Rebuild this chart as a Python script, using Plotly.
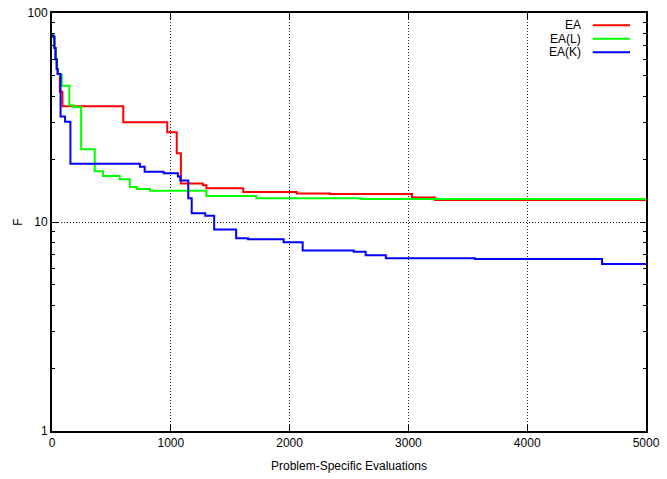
import plotly.graph_objects as go

# Best fitness F versus problem-specific evaluations (step traces)
ea_x = [0, 11, 20, 30, 40, 48, 66, 88, 600, 970, 1050, 1085, 1270, 1300, 1610, 2060, 2340, 3030, 3225, 5000]
ea_f = [78, 77, 68, 60, 54, 51, 42, 35.8, 30.0, 26.9, 21.3, 15.3, 15.0, 14.5, 13.9, 13.7, 13.6, 13.1, 12.75, 12.75]

eal_x = [0, 11, 20, 30, 40, 48, 67, 82, 146, 179, 245, 360, 430, 570, 655, 715, 825, 1300, 1720, 2600, 5000]
eal_f = [78, 77, 68, 60, 54, 51, 50.5, 44.9, 36.2, 35.5, 22.3, 17.5, 16.6, 16.0, 14.7, 14.4, 14.1, 13.3, 13.0, 12.9, 12.9]

eak_x = [0, 11, 20, 30, 40, 48, 72, 110, 155, 740, 780, 940, 1060, 1080, 1147, 1176,
         1290, 1365, 1550, 1650, 1950, 2110, 2540, 2640, 2810, 3560, 4630, 5000]
eak_f = [78, 77, 68, 60, 54, 51, 32, 30.2, 19.0, 18.4, 17.4, 17.1, 16.5, 15.8, 13.0, 11.0,
         10.7, 9.2, 8.36, 8.27, 8.0, 7.3, 7.2, 6.93, 6.71, 6.65, 6.3, 6.3]

series_names = ["EA", "EA(L)", "EA(K)"]
series_colors = ["#ff0000", "#00ff00", "#0000ff"]

x_ticks = [0, 1000, 2000, 3000, 4000, 5000]
y_ticks = [1, 10, 100]
y_minor = [2, 3, 4, 5, 6, 7, 8, 9, 20, 30, 40, 50, 60, 70, 80, 90]

FONT = "Liberation Sans, Arial, sans-serif"
GRID_DASH = "1px,2px"

fig = go.Figure()
for xs, fs, name, color in zip([ea_x, eal_x, eak_x], [ea_f, eal_f, eak_f],
                               series_names, series_colors):
    fig.add_trace(go.Scatter(x=xs, y=fs, name=name, mode="lines",
                             line=dict(color=color, width=2, shape="hv"),
                             showlegend=False))

# gnuplot-style key: right-aligned label followed by a line sample
key_rows = [0.9706, 0.9385, 0.9060]
for name, color, yp in zip(series_names, series_colors, key_rows):
    fig.add_annotation(x=0.894, y=yp, xref="paper", yref="paper", text=name,
                       showarrow=False, xanchor="right", yanchor="middle",
                       font=dict(family=FONT, size=12, color="#000000"))
    fig.add_shape(type="line", xref="paper", yref="paper",
                  x0=0.9103, x1=0.9731, y0=yp, y1=yp,
                  line=dict(color=color, width=2))

fig.update_layout(
    width=667, height=479,
    margin=dict(l=52, r=21, t=13, b=48, autoexpand=False),
    paper_bgcolor="white", plot_bgcolor="white",
    font=dict(family=FONT, size=12, color="#000000"),
)

fig.update_xaxes(
    range=[0, 5000], tickvals=x_ticks, ticktext=[str(v) for v in x_ticks],
    showline=True, linecolor="#000000", linewidth=2, mirror="ticks",
    ticks="inside", ticklen=6, tickcolor="#000000",
    showgrid=True, gridcolor="#222222", gridwidth=1, griddash=GRID_DASH,
    zeroline=False, automargin=False,
    title=dict(text="Problem-Specific Evaluations", standoff=12,
               font=dict(family=FONT, size=12)),
)

fig.update_yaxes(
    type="log", range=[0, 2], tickvals=y_ticks, ticktext=[str(v) for v in y_ticks],
    showline=True, linecolor="#000000", linewidth=2, mirror="ticks",
    ticks="inside", ticklen=6, tickcolor="#000000",
    minor=dict(tickmode="array", tickvals=y_minor, ticks="inside", ticklen=3,
               tickcolor="#000000", showgrid=False),
    showgrid=True, gridcolor="#222222", gridwidth=1, griddash=GRID_DASH,
    zeroline=False, automargin=False,
    title=dict(text="F", standoff=2, font=dict(family=FONT, size=12)),
)

fig.write_html("out.html")
